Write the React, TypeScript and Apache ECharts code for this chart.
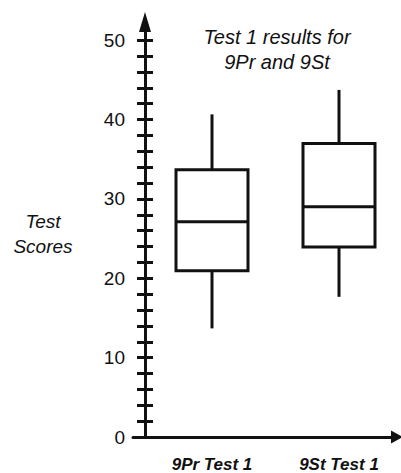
import React, { useEffect, useRef } from "react";
import * as echarts from "echarts";

const categories = ["9Pr Test 1", "9St Test 1"];
// [low whisker, Q1, median, Q3, high whisker]
const boxValues = [
  [13.5, 20.8, 27.0, 33.6, 40.6],
  [17.5, 23.8, 28.9, 36.9, 43.7],
];
const yLabelValues = [0, 10, 20, 30, 40, 50];
const yTickValues = [0, 2, 4, 6, 8, 10, 12, 14, 16, 18, 20, 22, 24, 26, 28, 30, 32, 34, 36, 38, 40, 42, 44, 46, 48, 50];
const titleLines = ["Test 1 results for", "9Pr and 9St"];
const yTitleLines = ["Test", "Scores"];

const INK = "#111111";
const Y_MAX = 52.3;

export default function App() {
  const ref = useRef<HTMLDivElement>(null);
  useEffect(() => {
    if (!ref.current) return;
    const chart = echarts.init(ref.current, null, { renderer: "svg" });
    const grid = { top: 22, bottom: 36 };
    const option: any = {
      animation: false,
      backgroundColor: "#ffffff",
      grid: [
        { left: 133, right: 4, top: grid.top, bottom: grid.bottom },
        { left: 212, right: 62, top: grid.top, bottom: grid.bottom },
      ],
      xAxis: [
        {
          gridIndex: 0,
          type: "value",
          min: 0,
          max: 1,
          axisLine: {
            show: true,
            onZero: false,
            symbol: ["none", "triangle"],
            symbolSize: [13, 12],
            lineStyle: { color: INK, width: 3 },
          },
          axisTick: { show: false },
          axisLabel: { show: false },
          splitLine: { show: false },
        },
        {
          gridIndex: 1,
          type: "category",
          data: categories,
          boundaryGap: false,
          axisLine: { show: false },
          axisTick: { show: false },
          splitLine: { show: false },
          axisLabel: {
            margin: 21,
            color: INK,
            fontFamily: "Liberation Sans, Arial, sans-serif",
            fontSize: 17,
            fontWeight: "bold",
            fontStyle: "italic",
          },
        },
      ],
      yAxis: [
        {
          gridIndex: 0,
          type: "value",
          min: 0,
          max: Y_MAX,
          position: "left",
          offset: -12,
          axisLine: {
            show: true,
            onZero: false,
            symbol: ["none", "triangle"],
            symbolSize: [12, 20],
            lineStyle: { color: INK, width: 3 },
          },
          axisTick: {
            show: true,
            customValues: yTickValues,
            length: 8,
            lineStyle: { color: INK, width: 3 },
          },
          axisLabel: {
            customValues: yLabelValues,
            margin: 20,
            color: INK,
            fontFamily: "Liberation Sans, Arial, sans-serif",
            fontSize: 19,
          },
          splitLine: { show: false },
        },
        {
          gridIndex: 0,
          type: "value",
          min: 0,
          max: Y_MAX,
          position: "left",
          offset: -12,
          axisLine: { show: false, onZero: false },
          axisTick: {
            show: true,
            inside: true,
            customValues: yTickValues,
            length: 8,
            lineStyle: { color: INK, width: 3 },
          },
          axisLabel: { show: false },
          splitLine: { show: false },
        },
        {
          gridIndex: 1,
          type: "value",
          min: 0,
          max: Y_MAX,
          show: false,
        },
      ],
      graphic: [
        {
          type: "text",
          x: 277,
          y: 24,
          style: {
            text: titleLines.join("\n"),
            align: "center",
            verticalAlign: "top",
            fill: INK,
            fontFamily: "Liberation Sans, Arial, sans-serif",
            fontSize: 20,
            fontStyle: "italic",
            lineHeight: 25,
          },
        },
        {
          type: "text",
          x: 43,
          y: 209,
          style: {
            text: yTitleLines.join("\n"),
            align: "center",
            verticalAlign: "top",
            fill: INK,
            fontFamily: "Liberation Sans, Arial, sans-serif",
            fontSize: 19,
            fontStyle: "italic",
            lineHeight: 25,
          },
        },
      ],
      series: [
        {
          type: "custom",
          xAxisIndex: 1,
          yAxisIndex: 2,
          encode: { x: 0, y: [1, 2, 3, 4, 5] },
          data: boxValues.map((v, i) => [i, ...v]),
          renderItem: (params: any, api: any) => {
            const xi = api.value(0);
            const p = (v: number) => api.coord([xi, v]);
            const [cx, yLow] = p(api.value(1));
            const yQ1 = p(api.value(2))[1];
            const yMed = p(api.value(3))[1];
            const yQ3 = p(api.value(4))[1];
            const yHigh = p(api.value(5))[1];
            const w = 72;
            const st = { stroke: INK, lineWidth: 3, fill: "none" };
            return {
              type: "group",
              children: [
                { type: "line", shape: { x1: cx, y1: yHigh, x2: cx, y2: yQ3 }, style: st },
                { type: "rect", shape: { x: cx - w / 2, y: yQ3, width: w, height: yQ1 - yQ3 }, style: st },
                { type: "line", shape: { x1: cx - w / 2, y1: yMed, x2: cx + w / 2, y2: yMed }, style: st },
                { type: "line", shape: { x1: cx, y1: yQ1, x2: cx, y2: yLow }, style: st },
              ],
            };
          },
        },
      ],
    };
    chart.setOption(option);
    return () => chart.dispose();
  }, []);
  return (
    <div
      ref={ref}
      style={{ position: "fixed", left: 0, top: 0, width: 401, height: 473, background: "#fff" }}
    />
  );
}
